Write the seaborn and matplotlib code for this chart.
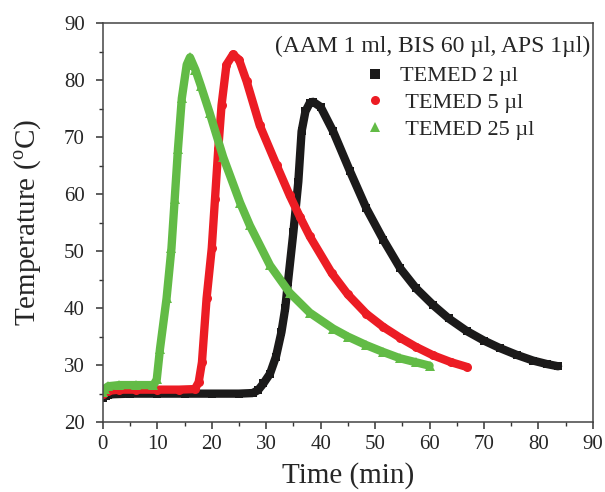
import numpy as np
import pandas as pd
import matplotlib
matplotlib.use("Agg")
import matplotlib.pyplot as plt
from matplotlib.lines import Line2D
from matplotlib.ticker import MultipleLocator
import seaborn as sns

# values (time in min, temperature in degC)
time_2ul = [0, 0.5, 1, 2, 5, 10, 15, 20, 25, 27.5, 28.5, 29.5, 30.7, 31.8, 32.8,
            33.5, 34.0, 35.0, 35.9, 36.5, 37.2, 38.0, 38.6, 40.0, 42.3, 45.4,
            48.4, 51.5, 54.6, 57.5, 60.7, 63.5, 66.8, 70.0, 72.9, 76.0, 79.0,
            81.5, 83.6]
temp_2ul = [24.3, 24.6, 24.8, 24.9, 25.0, 25.0, 25.0, 25.0, 25.0, 25.1, 25.6,
            26.8, 28.5, 31.5, 35.8, 40.0, 44.6, 53.4, 62.2, 71.0, 74.5, 76.0,
            76.2, 75.3, 71.0, 64.0, 57.5, 52.0, 47.0, 43.5, 40.5, 38.2, 36.0,
            34.3, 33.0, 31.8, 30.8, 30.2, 29.8]

time_5ul = [0, 1, 3, 6, 10, 14, 16.9, 17.6, 18.2, 19.05, 20.0, 20.6, 21.2,
            21.8, 22.7, 23.9, 25.0, 26.4, 28.8, 31.9, 34.3, 36.2, 38.0, 42.0,
            45.0, 48.4, 51.5, 54.6, 57.5, 60.7, 64.0, 66.8]
temp_5ul = [25.0, 25.5, 25.7, 25.7, 25.7, 25.7, 25.8, 27.0, 30.5, 41.7, 50.5,
            59.2, 68.0, 75.6, 82.7, 84.5, 83.6, 79.8, 72.1, 65.1, 59.8, 56.0,
            52.6, 46.2, 42.4, 39.0, 36.7, 34.8, 33.2, 31.7, 30.5, 29.7]

time_25ul = [0, 0.4, 1, 3, 6, 9.3, 9.9, 10.5, 11.7, 12.6, 13.2, 13.8, 14.5,
             15.4, 16.0, 17.0, 18.0, 19.6, 22.1, 25.2, 27.0, 30.7, 34.3, 38.0,
             42.3, 45.0, 48.4, 51.5, 54.6, 57.5, 60.0]
temp_25ul = [25.3, 25.9, 26.3, 26.5, 26.5, 26.5, 27.5, 32.9, 41.7, 50.5, 59.2,
             68.0, 76.8, 82.7, 84.0, 81.8, 79.0, 74.3, 66.5, 58.5, 54.5, 47.5,
             42.7, 39.2, 36.4, 35.0, 33.5, 32.3, 31.2, 30.5, 29.9]

labels = ["TEMED 2 \u00b5l", " TEMED 5 \u00b5l", " TEMED 25 \u00b5l"]
colors = ["#1b1a1a", "#ec1c24", "#62bb46"]
markers = ["s", "o", "^"]
msizes = [5.5, 6.5, 7.0]

sns.set_style("ticks")
plt.rcParams["font.family"] = ["Liberation Serif", "DejaVu Serif"]
plt.rcParams["mathtext.fontset"] = "custom"
plt.rcParams["mathtext.rm"] = "Liberation Serif"

fig = plt.figure(figsize=(6.05, 4.92), dpi=100)
ax = fig.add_axes([0.170, 0.142, 0.810, 0.811])

series = [(time_2ul, temp_2ul), (time_5ul, temp_5ul), (time_25ul, temp_25ul)]
for (t, T), col, mk, ms in zip(series, colors, markers, msizes):
    df = pd.DataFrame({"time": t, "temp": T})
    sns.lineplot(data=df, x="time", y="temp", color=col, linewidth=6.0,
                 marker=mk, markersize=ms, markeredgewidth=0,
                 estimator=None, sort=False, ax=ax)
    ln = ax.lines[-1]
    ln.set_solid_capstyle("round")
    ln.set_solid_joinstyle("round")

ax.set_xlim(0, 90)
ax.set_ylim(20, 90)
ax.xaxis.set_major_locator(MultipleLocator(10))
ax.xaxis.set_minor_locator(MultipleLocator(5))
ax.yaxis.set_major_locator(MultipleLocator(10))
ax.yaxis.set_minor_locator(MultipleLocator(5))
ax.tick_params(which="major", direction="out", length=5, width=1.1,
               labelsize=15, pad=4, color="#333333")
ax.tick_params(axis="y", which="major", pad=8)
ax.tick_params(which="minor", direction="out", length=3, width=1.0,
               color="#333333")
for sp in ax.spines.values():
    sp.set_visible(True)
    sp.set_linewidth(1.1)
    sp.set_color("#444444")

ax.set_xlabel("Time (min)", fontsize=21, labelpad=6)
ax.set_ylabel("Temperature ($^{\\mathrm{o}}$C)", fontsize=21, labelpad=14)

handles = [Line2D([], [], linestyle="none", marker=m, color=c, markersize=6.5,
                  markeredgewidth=0) for m, c in zip(markers, colors)]
ax.legend(handles, labels, loc="upper left", bbox_to_anchor=(0.515, 0.915),
          frameon=False, fontsize=16, handlelength=1.0, handletextpad=0.6,
          labelspacing=0.28, borderaxespad=0)
ax.text(0.994, 0.942, "(AAM 1 ml, BIS 60 \u00b5l, APS 1\u00b5l)", transform=ax.transAxes,
        ha="right", va="center", fontsize=17)

fig.savefig("out.png", dpi=100)
